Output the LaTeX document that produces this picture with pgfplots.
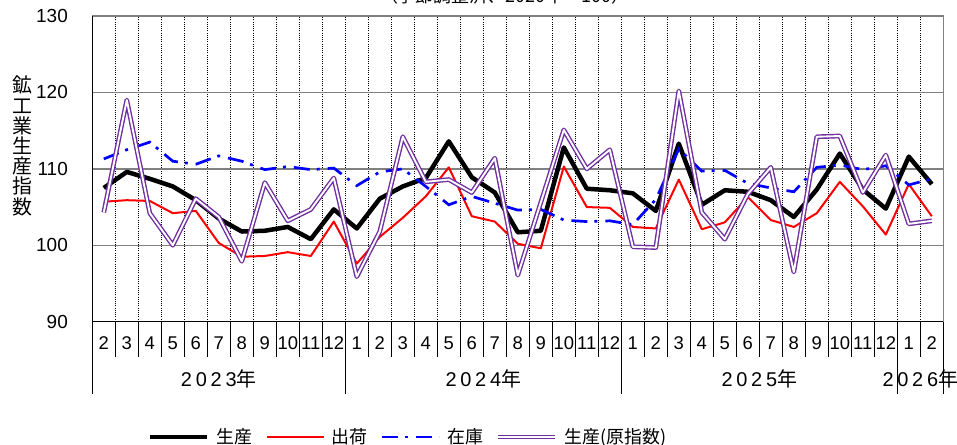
\documentclass[border=0pt]{standalone}
\usepackage{fontspec}
\setmainfont{Liberation Sans}
\newfontfamily\cjk{Noto Sans CJK JP}
\newfontfamily\yearfont{Liberation Sans}[LetterSpace=19]
\usepackage{pgfplots}
\usepackage{pgfplotstable}
\pgfplotsset{compat=1.18}
\definecolor{gridgray}{RGB}{128,128,128}
\definecolor{rawpurple}{RGB}{112,48,160}

\pgfplotstableread{
idx prod ship inv raw
0 107.5 105.7 111.3 104.3
1 109.6 105.9 112.5 119.0
2 108.7 105.8 113.5 104.2
3 107.7 104.2 111.0 100.0
4 105.9 104.5 110.6 106.1
5 103.5 100.3 111.7 103.7
6 101.8 98.5 111.0 97.9
7 101.9 98.6 109.9 108.2
8 102.4 99.1 110.3 103.2
9 100.8 98.6 109.9 104.7
10 104.7 103.1 110.1 108.8
11 102.2 97.6 107.8 95.9
12 106.1 101.1 109.6 101.8
13 107.7 103.6 110.0 114.2
14 108.8 106.4 107.7 108.3
15 113.6 110.2 105.3 108.6
16 108.9 103.8 106.4 106.9
17 106.9 103.1 105.5 111.4
18 101.7 100.2 104.6 96.1
19 101.9 99.6 104.7 105.6
20 112.8 110.3 103.3 115.1
21 107.4 105.0 103.1 110.0
22 107.2 104.9 103.2 112.5
23 106.8 102.4 102.7 99.8
24 104.5 102.2 106.0 99.7
25 113.3 108.6 112.6 120.2
26 105.3 102.1 109.7 104.3
27 107.2 103.0 109.8 100.8
28 107.0 106.3 108.1 106.7
29 105.9 103.3 107.5 110.2
30 103.7 102.4 107.0 96.5
31 107.3 104.2 110.2 114.2
32 112.0 108.3 110.5 114.3
33 107.3 105.1 109.9 106.9
34 104.8 101.4 110.4 111.8
35 111.6 108.0 107.9 102.8
36 108.0 103.8 108.7 103.2
}\datatab

\begin{document}
\begin{tikzpicture}
\begin{axis}[
  name=ax,
  at={(92.3bp,-321.7bp)}, anchor=south west,
  width=851bp, height=305.7bp, scale only axis,
  xmin=-0.5, xmax=36.5, ymin=90, ymax=130,
  ytick={90,100,...,130},
  xtick={0,...,36},
  xticklabels={2,3,4,5,6,7,8,9,10,11,12,1,2,3,4,5,6,7,8,9,10,11,12,1,2,3,4,5,6,7,8,9,10,11,12,1,2},
  minor xtick={-0.5,0.5,...,36.5},
  xmajorgrids=false, xminorgrids=true, ymajorgrids=true,
  major tick length=0pt, minor tick length=35.3bp,
  tick align=outside, tick pos=left,
  minor tick style={black, line width=0.8bp},
  minor grid style={black, line width=0.8bp, dash pattern=on 1bp off 1.2bp},
  major grid style={gridgray, line width=1.5bp},
  extra y ticks={100}, extra y tick labels={},
  extra y tick style={grid style={black, line width=1bp}},
  axis line style={gridgray, line width=1.2bp},
  /pgf/number format/assume math mode=true,
  yticklabel style={anchor=east, inner sep=0pt, xshift=-24.3bp, font=\fontsize{19}{21}\selectfont},
  xticklabel style={anchor=base, inner sep=0pt, yshift=-28bp, font=\fontsize{18.5}{20}\selectfont},
  clip=false,
  legend columns=4,
  legend style={at={(0.0655,-0.377)}, anchor=west, draw=none, fill=none, inner sep=0pt,
    nodes={inner sep=0pt, font=\cjk\fontsize{18}{20}\selectfont},
    /tikz/every odd column/.append style={column sep=7bp},
    /tikz/every even column/.append style={column sep=13bp}},
  legend image code/.code={\draw[#1] (0bp,0bp) -- (57bp,0bp);},
]
\addplot[black, line width=4.5bp, line join=round] table[x=idx, y=prod] {\datatab};
\addlegendentry{生産}
\addplot[red, line width=2bp, line join=round] table[x=idx, y=ship] {\datatab};
\addlegendentry{出荷}
\addplot[blue, line width=2.7bp, dash pattern=on 16bp off 7bp on 3bp off 8bp] table[x=idx, y=inv] {\datatab};
\addlegendentry{在庫}
\addplot[rawpurple, line width=1.4bp, double=white, double distance=1.9bp, line join=round] table[x=idx, y=raw] {\datatab};
\addlegendentry{生産(原指数)}

\draw[black, line width=0.8bp] (axis cs:-0.5,90) -- ([yshift=-72.3bp]axis cs:-0.5,90);
\draw[black, line width=0.8bp] (axis cs:10.5,90) -- ([yshift=-72.3bp]axis cs:10.5,90);
\draw[black, line width=0.8bp] (axis cs:22.5,90) -- ([yshift=-72.3bp]axis cs:22.5,90);
\draw[black, line width=0.8bp] (axis cs:34.5,90) -- ([yshift=-72.3bp]axis cs:34.5,90);
\draw[black, line width=0.8bp] (axis cs:36.5,90) -- ([yshift=-72.3bp]axis cs:36.5,90);
\draw[black, line width=1.5bp] (axis cs:-0.5,130) -- (axis cs:-0.5,90) -- (axis cs:36.5,90);

\node[anchor=base, inner sep=0pt, yshift=-64.3bp, font=\yearfont\fontsize{20}{22}\selectfont] at (axis cs:5,90) {2023{\cjk 年}};
\node[anchor=base, inner sep=0pt, yshift=-64.3bp, font=\yearfont\fontsize{20}{22}\selectfont] at (axis cs:16.5,90) {2024{\cjk 年}};
\node[anchor=base, inner sep=0pt, yshift=-64.3bp, font=\yearfont\fontsize{20}{22}\selectfont] at (axis cs:28.5,90) {2025{\cjk 年}};
\node[anchor=base, inner sep=0pt, yshift=-64.3bp, font=\yearfont\fontsize{20}{22}\selectfont] at (axis cs:35.5,90) {2026{\cjk 年}};
\end{axis}
\node[font=\cjk\fontsize{20}{20.3}\selectfont, align=center, inner sep=0pt] at (22bp,-146bp) {鉱\\工\\業\\生\\産\\指\\数};
\node[anchor=base, font=\cjk\fontsize{18}{20}\selectfont, inner sep=0pt] at (504.5bp,-2bp) {（季節調整済、2020年＝100）};
\pgfresetboundingbox
\useasboundingbox (0,0) rectangle (957bp,-445bp);
\end{tikzpicture}
\end{document}
